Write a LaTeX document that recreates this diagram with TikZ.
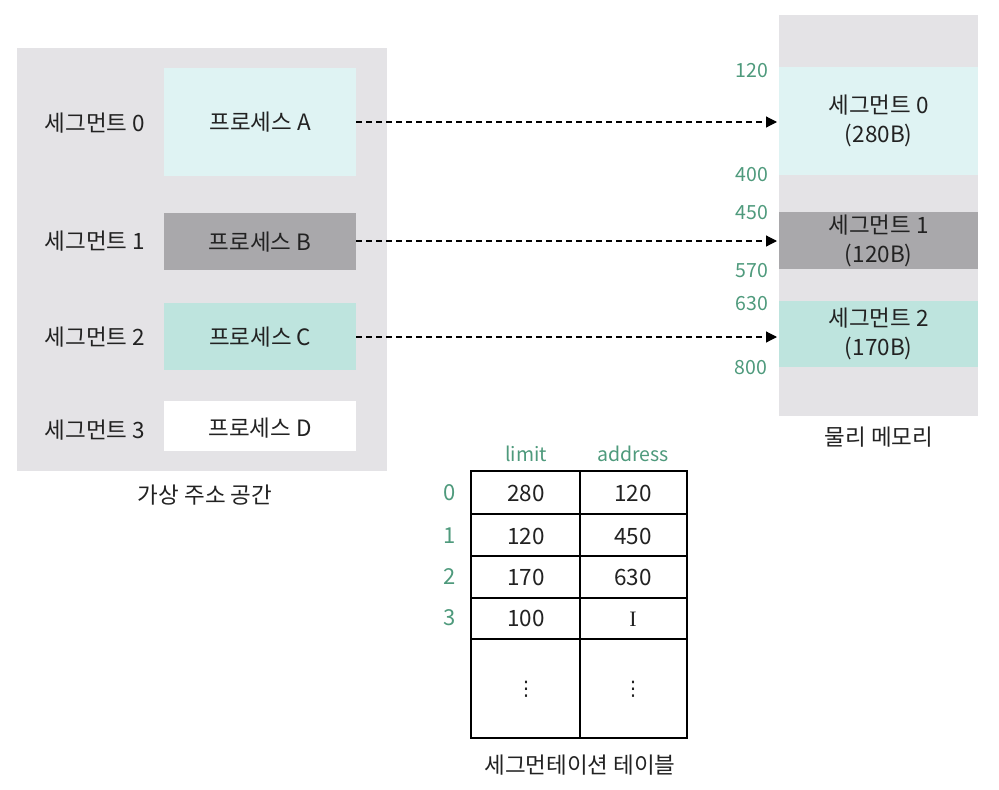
\documentclass[tikz,border=0pt]{standalone}
\usepackage{fontspec}
\setmainfont{Noto Sans CJK KR}
\newfontfamily\serifI{Liberation Serif}
\newfontfamily\dejavu{DejaVu Sans}
\usetikzlibrary{arrows.meta,calc}
\definecolor{bgA}{HTML}{E4E3E6}
\definecolor{cyanA}{HTML}{DFF3F3}
\definecolor{grayB}{HTML}{A9A8AB}
\definecolor{tealC}{HTML}{BEE4DE}
\definecolor{numgreen}{HTML}{4E9A7C}
\definecolor{txt}{HTML}{222222}
\tikzset{
  lbl/.style={font=\fontsize{22.5}{26}\selectfont, text=txt, inner sep=0pt},
  glbl/.style={font=\fontsize{19.5}{22}\selectfont, text=numgreen, inner sep=0pt},
  idx/.style={font=\fontsize{22}{24}\selectfont, text=numgreen, inner sep=0pt},
  blk/.style={draw=none, inner sep=0pt, anchor=north west},
  conn/.style={dashed, dash pattern=on 6pt off 4pt, line width=1.2pt, -{Triangle[length=11pt,width=11pt]}},
  tbl/.style={line width=1.5pt, draw=black},
  vdot/.style={font=\dejavu\fontsize{20}{22}\selectfont, text=txt, inner sep=0pt}
}
\begin{document}
\begin{tikzpicture}[x=1pt,y=-1pt]
\useasboundingbox (0,0) rectangle (999,790);
\fill[white] (0,0) rectangle (999,790);
% virtual address space
\fill[bgA] (17,48) rectangle (387,471);
\node[blk, fill=cyanA, minimum width=192pt, minimum height=108pt] (pa) at (164,68) {};
\node[blk, fill=grayB, minimum width=192pt, minimum height=57pt] (pb) at (164,213) {};
\node[blk, fill=tealC, minimum width=192pt, minimum height=67pt] (pc) at (164,303) {};
\node[blk, fill=white, minimum width=192pt, minimum height=50pt] (pd) at (164,401) {};
\node[lbl] at (pa.center) {프로세스 A};
\node[lbl] at (pb.center) {프로세스 B};
\node[lbl] at (pc.center) {프로세스 C};
\node[lbl] at ($(pd.center)+(0,2)$) {프로세스 D};
\node[lbl] (s0) at (95,123) {세그먼트 0};
\node[lbl] (s1) at (95,241) {세그먼트 1};
\node[lbl] (s2) at (95,337) {세그먼트 2};
\node[lbl] (s3) at (95,430) {세그먼트 3};
\node[lbl] (vas) at (205,495) {가상 주소 공간};
% physical memory
\fill[bgA] (779,15) rectangle (978,416);
\node[blk, fill=cyanA, minimum width=199pt, minimum height=108pt] (m0) at (779,67) {};
\node[blk, fill=grayB, minimum width=199pt, minimum height=57pt] (m1) at (779,212) {};
\node[blk, fill=tealC, minimum width=199pt, minimum height=66pt] (m2) at (779,301) {};
\node[lbl, align=center] at (m0.center) {세그먼트 0\\[3pt](280B)};
\node[lbl, align=center] at (m1.center) {세그먼트 1\\[3pt](120B)};
\node[lbl, align=center] at (m2.center) {세그먼트 2\\[3pt](170B)};
\node[lbl] (pm) at (879,437) {물리 메모리};
\node[glbl] (a120) at (752,71) {120};
\node[glbl] (a400) at (752,175) {400};
\node[glbl] (a450) at (752,213) {450};
\node[glbl] (a570) at (752,271) {570};
\node[glbl] (a630) at (752,304) {630};
\node[glbl] (a800) at (751,368) {800};
% arrows
\coordinate (t0) at (777,122);
\coordinate (t1) at (777,241);
\coordinate (t2) at (777,337);
\draw[conn] (pa.east |- t0) -- (t0);
\draw[conn] (pb.east |- t1) -- (t1);
\draw[conn] (pc.east |- t2) -- (t2);
% table
\draw[tbl] (471,471) rectangle (687,738);
\draw[tbl] (580,471) -- (580,738);
\foreach \yy in {514,556,598,639} \draw[tbl] (471,\yy) -- (687,\yy);
\node[glbl] (hl) at (526,454) {limit};
\node[glbl] (ha) at (633,454) {address};
\node[idx] (i0) at (450,493) {0};
\node[idx] (i1) at (450,536) {1};
\node[idx] (i2) at (450,577) {2};
\node[idx] (i3) at (450,618) {3};
\node[lbl] (l0) at (526,493) {280};
\node[lbl] (l1) at (526,536) {120};
\node[lbl] (l2) at (526,577) {170};
\node[lbl] (l3) at (526,618) {100};
\node[lbl] (d0) at (633,493) {120};
\node[lbl] (d1) at (633,536) {450};
\node[lbl] (d2) at (633,577) {630};
\node[lbl, font=\serifI\fontsize{22}{22}\selectfont] (d3) at (633,619) {I};
\node[vdot] (e1) at (526,689) {⋮};
\node[vdot] (e2) at (633,689) {⋮};
\node[lbl] (tt) at (580,765) {세그먼테이션 테이블};
\end{tikzpicture}
\end{document}
